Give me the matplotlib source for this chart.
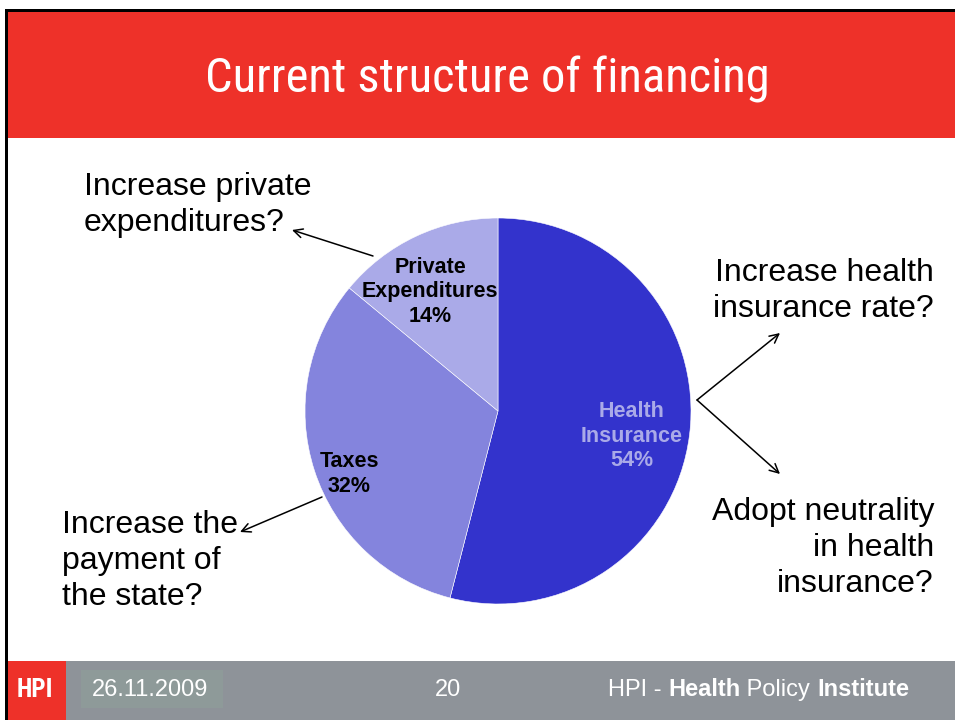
import matplotlib.pyplot as plt
from matplotlib.patches import Rectangle

# Financing shares (percent)
sources = ["Health\nInsurance", "Taxes", "Private\nExpenditures"]
shares = [54, 32, 14]
slice_colors = ["#3333CC", "#8484DD", "#AAAAE8"]
label_colors = ["#AAAAE8", "black", "black"]

title = "Current structure of financing"
questions = [
    "Increase private\nexpenditures?",
    "Increase health\ninsurance rate?",
    "Adopt neutrality\nin health\ninsurance?",
    "Increase the\npayment of\nthe state?",
]
footer_date = "26.11.2009"
footer_page = "20"

H = 720
fig = plt.figure(figsize=(9.55, 7.2), dpi=100)
ax = fig.add_axes([0, 0, 1, 1])
ax.set_xlim(0, 955)
ax.set_ylim(0, H)
ax.set_aspect("equal")
ax.axis("off")


def y(v):
    # pixel row measured from the top
    return H - v


sans = ["Liberation Sans", "DejaVu Sans"]
narrow = ["Roboto Condensed", "Open Sans Condensed", "DejaVu Sans"]

# frame, title bar and footer
ax.add_patch(Rectangle((5, 0), 950, y(9), facecolor="black", lw=0))
ax.add_patch(Rectangle((8, 0), 947, y(12), facecolor="white", lw=0))
ax.add_patch(Rectangle((8, y(138)), 947, 126, facecolor="#EE3129", lw=0))
ax.add_patch(Rectangle((8, 0), 947, 59, facecolor="#8E9399", lw=0))
ax.add_patch(Rectangle((8, 0), 58, 59, facecolor="#EE3129", lw=0))
ax.add_patch(Rectangle((81, y(708)), 142, 38, facecolor="#8E9A99", lw=0))

ax.text(487, y(79), title, color="white", fontsize=35, ha="center", va="center",
        family=narrow)

# pie, clockwise from 12 o'clock
cx, cy, r = 498, y(411), 193
ax.pie(shares, colors=slice_colors, startangle=90, counterclock=False,
       center=(cx, cy), radius=r, frame=True,
       wedgeprops=dict(linewidth=0.4, edgecolor="white"))
ax.set_xlim(0, 955)
ax.set_ylim(0, H)
ax.axis("off")

label_pos = [(632, 436), (349, 474), (430, 292)]
for name, val, col, (lx, ly) in zip(sources, shares, label_colors, label_pos):
    ax.text(lx, y(ly), f"{name}\n{val}%", color=col, fontsize=15.5, fontweight="bold",
            ha="center", va="center", linespacing=1.2, family=sans)

# questions around the pie
qfont = dict(fontsize=23, color="black", linespacing=1.27, family=sans)
ax.text(84, y(205), questions[0], ha="left", va="center", **qfont)
ax.text(934, y(291), questions[1], ha="right", va="center", **qfont)
ax.text(934, y(548), questions[2], ha="right", va="center", **qfont)
ax.text(62, y(561), questions[3], ha="left", va="center", **qfont)

arrow = dict(arrowstyle="->", color="black", lw=1.1, mutation_scale=16,
             shrinkA=0, shrinkB=0)
ax.annotate("", xy=(292, y(230)), xytext=(373, y(256)), arrowprops=arrow)
ax.annotate("", xy=(240, y(532)), xytext=(322, y(497)), arrowprops=arrow)
ax.annotate("", xy=(780, y(333)), xytext=(697, y(400)), arrowprops=arrow)
ax.annotate("", xy=(780, y(474)), xytext=(697, y(400)), arrowprops=arrow)

# footer text
ax.text(35, y(690), "HPI", color="white", fontsize=18, fontweight="bold",
        ha="center", va="center", family=narrow)
ax.text(92, y(690), footer_date, color="white", fontsize=17, ha="left",
        va="center", family=sans)
ax.text(448, y(690), footer_page, color="white", fontsize=17, ha="center",
        va="center", family=sans)
fx = 608
for part, weight in [("HPI - ", "normal"), ("Health", "bold"),
                     (" Policy ", "normal"), ("Institute", "bold")]:
    t = ax.text(fx, y(690), part, color="white", fontsize=17, fontweight=weight,
                ha="left", va="center", family=sans)
    fig.canvas.draw()
    fx = t.get_window_extent().x1

fig.savefig("out.png", dpi=100)
